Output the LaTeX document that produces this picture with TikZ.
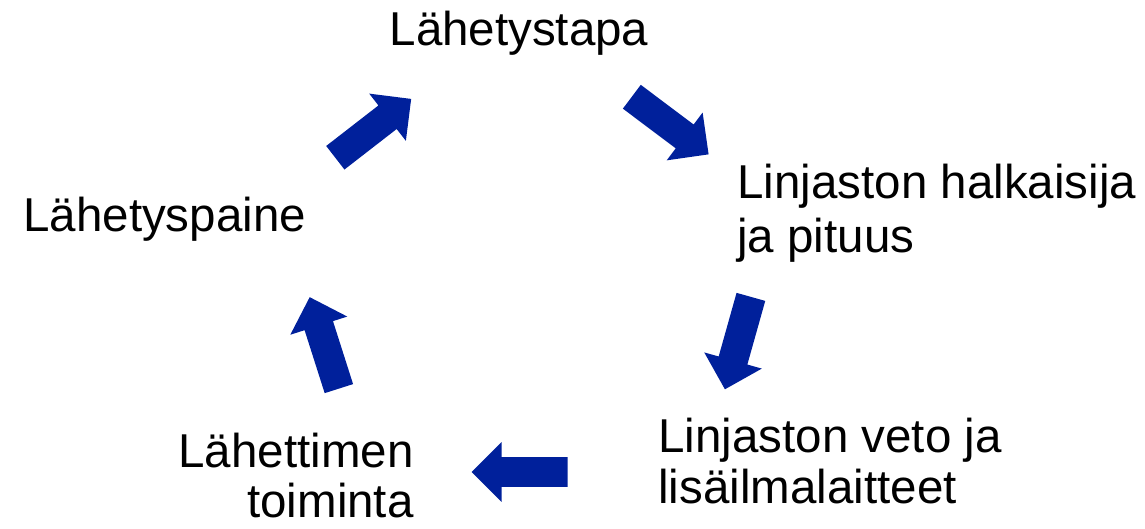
\documentclass[tikz,border=0pt]{standalone}
\usepackage{fontspec}
\setmainfont{Liberation Sans}
\usetikzlibrary{shapes.arrows}
\definecolor{cycleblue}{RGB}{0,32,155}
\tikzstyle{flow} = [single arrow, draw=none, fill=cycleblue, inner xsep=0pt, inner ysep=7.25pt, minimum height=48pt, single arrow head extend=7.5pt, single arrow tip angle=90, anchor=tail]
\tikzstyle{phase} = [inner sep=0pt, font=\fontsize{23.75}{27.5}\selectfont]

\begin{document}
\begin{tikzpicture}[x=0.5pt,y=-0.5pt]
        \useasboundingbox (0,0) rectangle (1145,529);
        \node[phase, anchor=base] at (519,46) (tapa) {Lähetystapa};
        \node[phase, anchor=base west, align=left] at (737,253) (halk) {Linjaston halkaisija\\ja pituus};
        \node[phase, anchor=base west, align=left, font=\fontsize{23.75}{25.5}\selectfont] at (658,503) (veto) {Linjaston veto ja\\lisäilmalaitteet};
        \node[phase, anchor=base east, align=right, font=\fontsize{23.75}{25}\selectfont] at (414,517) (lahetin) {Lähettimen\\toiminta};
        \node[phase, anchor=base west] at (23,232) (paine) {Lähetyspaine};

        \node[flow, rotate=-36.9] at (631.5,96.5) (f1) {};
        \node[flow, rotate=-105.7] at (751,296.5) (f2) {};
        \node[flow, rotate=180] at (568,472) (f3) {};
        \node[flow, rotate=107.7] at (339,389) (f4) {};
        \node[flow, rotate=37.8] at (335,158) (f5) {};
\end{tikzpicture}
\end{document}
